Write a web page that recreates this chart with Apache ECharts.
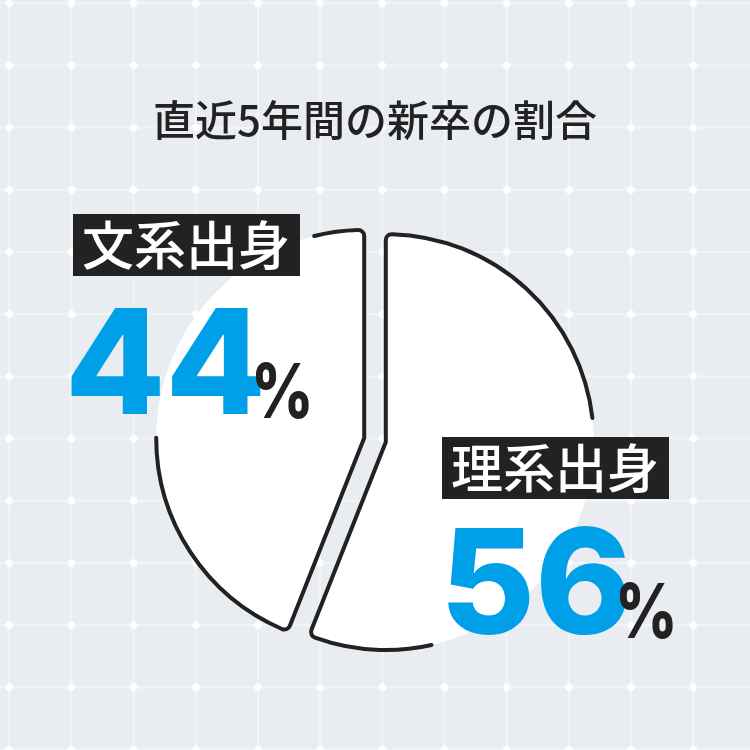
<!DOCTYPE html>
<html><head><meta charset="utf-8">
<script src="https://cdn.jsdelivr.net/npm/echarts@6/dist/echarts.min.js"></script>
<style>
html,body{margin:0;padding:0;background:#e9ecf0;}
#main{width:750px;height:750px;background-color:#e9ecf0;
background-image:
 radial-gradient(circle, #ffffff 3.3px, rgba(255,255,255,0) 4.3px),
 linear-gradient(to right, rgba(255,255,255,0.42) 2px, rgba(255,255,255,0) 2px),
 linear-gradient(to bottom, rgba(255,255,255,0.42) 2px, rgba(255,255,255,0) 2px);
background-size:62.2px 62.2px;
background-position:-21.9px -27.8px, 8.2px 2.3px, 8.2px 2.3px;}
</style></head>
<body><div id="main"></div>
<script>
// ---- data ----
const chartTitle = '直近5年間の新卒の割合';
const categories = ['理系出身', '文系出身'];
const shares = [56, 44];
const percentSign = '%';

// ---- style ----
const R = 208, CR = 6;
const hiddenArcs = [[83.3, 167.2], [270, 346]]; // outline omitted here (deg clockwise from top)
const ink = '#222222', blue = '#00a0e9';

const total = shares.reduce((a, b) => a + b, 0);
let cum = 0;
const pieData = categories.map((name, i) => {
  const start = cum / total * 360; cum += shares[i];
  const h0 = hiddenArcs[i][0], h1 = hiddenArcs[i][1];
  const delta = CR / (R - CR);
  const d1 = CR * Math.PI / 2 + R * ((h0 - start) * Math.PI / 180 - delta);
  const g = R * (h1 - h0) * Math.PI / 180;
  const st = { color: '#ffffff', borderColor: ink, borderWidth: 4, borderRadius: CR,
    borderType: [d1, g, 100000], borderCap: 'round', borderJoin: 'round' };
  return { name: name, value: shares[i], selected: true, itemStyle: st, select: { itemStyle: st } };
});

const boxStyle = { color: '#ffffff', fontSize: 52, lineHeight: 52, fontWeight: 500,
  fontFamily: '"Noto Sans CJK JP", sans-serif' };
const numStyle = { color: blue, fontSize: 146, lineHeight: 146, fontWeight: 800, fontFamily: 'Inter, Lato, sans-serif' };
const pctFont = '800 76px Inter, Lato, sans-serif';
function pct(x, y) {
  return { type: 'text', x: x, y: y, scaleX: 0.8, z: 100, silent: true,
    style: { text: percentSign, font: pctFont, fill: ink, align: 'left', verticalAlign: 'middle', lineHeight: 76 } };
}

const option = {
  backgroundColor: 'transparent',
  animation: false,
  title: [
    { text: chartTitle, left: 'center', top: 96, padding: 0,
      textStyle: { color: ink, fontSize: 42, lineHeight: 48, fontWeight: 500, fontFamily: '"Noto Sans CJK JP", sans-serif' } },
    { text: categories[1], left: 73, top: 214, padding: [5, 10, 5, 9], backgroundColor: ink, textStyle: boxStyle },
    { text: categories[0], left: 442, top: 437, padding: [5, 10, 5, 9], backgroundColor: ink, textStyle: boxStyle },
    { text: String(shares[1]), left: 65, top: 297, padding: 0, textStyle: numStyle },
    { text: String(shares[0]), left: 440, top: 517, padding: 0, textStyle: numStyle }
  ],
  graphic: [pct(251, 395), pct(615, 615)],
  series: [{
    type: 'pie',
    center: [375, 440],
    radius: R,
    startAngle: 90,
    clockwise: true,
    selectedMode: 'multiple',
    selectedOffset: 11,
    silent: true,
    emphasis: { disabled: true },
    label: { show: false },
    labelLine: { show: false },
    data: pieData
  }]
};
const chart = echarts.init(document.getElementById('main'));
chart.setOption(option);
</script>
</body></html>
